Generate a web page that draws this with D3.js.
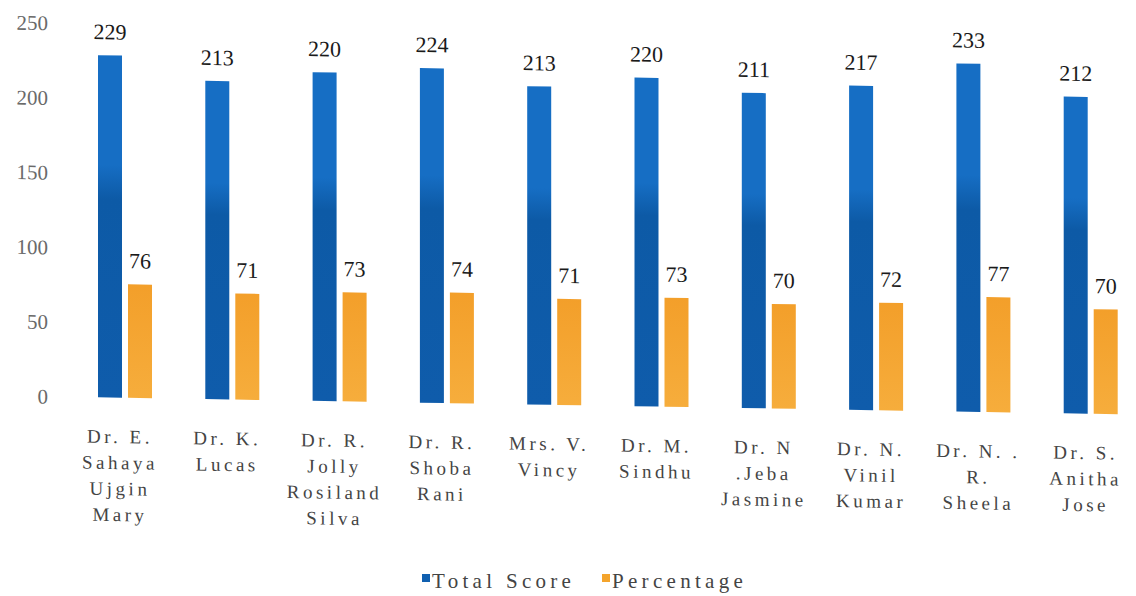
<!DOCTYPE html>
<html>
<head>
<meta charset="utf-8">
<script src="https://cdn.jsdelivr.net/npm/d3@7"></script>
<style>
  html, body { margin: 0; padding: 0; background: #fff; }
  svg { display: block; }
</style>
</head>
<body>
<svg id="chart" width="1136" height="596"></svg>
<script>
const categories = [
  "Dr. E.\nSahaya\nUjgin\nMary",
  "Dr. K.\nLucas",
  "Dr. R.\nJolly\nRosiland\nSilva",
  "Dr. R.\nShoba\nRani",
  "Mrs. V.\nVincy",
  "Dr. M.\nSindhu",
  "Dr. N\n.Jeba\nJasmine",
  "Dr. N.\nVinil\nKumar",
  "Dr. N. .\nR.\nSheela",
  "Dr. S.\nAnitha\nJose"
];
const seriesNames = ["Total Score", "Percentage"];
const totalScore = [229, 213, 220, 224, 213, 220, 211, 217, 233, 212];
const percentage = [76, 71, 73, 74, 71, 73, 70, 72, 77, 70];
const yTicks = [0, 50, 100, 150, 200, 250];
const colors = ["#1060b0", "#f4a42c"];

const rows = categories.map((c, i) => ({
  cat: c,
  vals: [
    { key: seriesNames[0], v: totalScore[i] },
    { key: seriesNames[1], v: percentage[i] }
  ]
}));

const svg = d3.select("#chart");

const defs = svg.append("defs");
const gBlue = defs.append("linearGradient").attr("id", "gBlue").attr("x1", 0).attr("x2", 0).attr("y1", 0).attr("y2", 1);
gBlue.append("stop").attr("offset", "0%").attr("stop-color", "#166ec4");
gBlue.append("stop").attr("offset", "32%").attr("stop-color", "#166ec4");
gBlue.append("stop").attr("offset", "42%").attr("stop-color", "#0d5aa6");
gBlue.append("stop").attr("offset", "100%").attr("stop-color", "#0f5cab");
const gOr = defs.append("linearGradient").attr("id", "gOr").attr("x1", 0).attr("x2", 0).attr("y1", 0).attr("y2", 1);
gOr.append("stop").attr("offset", "0%").attr("stop-color", "#f39f2a");
gOr.append("stop").attr("offset", "100%").attr("stop-color", "#f6ad3c");
const fills = ["url(#gBlue)", "url(#gOr)"];

const g = svg.append("g").attr("transform", "translate(0,-1.82) skewY(0.949)");

const x0 = d3.scaleBand().domain(categories).range([71.35, 1144.35]).paddingInner(0).paddingOuter(0);
const x1 = d3.scaleBand().domain(seriesNames).range([26.65, 80.65]).paddingInner(0.2);
const y = d3.scaleLinear().domain([0, 250]).range([397.5, 24]);

const yAxis = d3.axisLeft(y).tickValues(yTicks).tickSize(0).tickPadding(0);
const ya = g.append("g").attr("transform", "translate(48,0)").call(yAxis);
ya.select(".domain").remove();
ya.selectAll("text")
  .attr("font-family", "'Liberation Serif', 'DejaVu Serif', serif")
  .attr("font-size", 21)
  .attr("fill", "#6a6a6a");

const groups = g.selectAll("g.grp").data(rows).join("g")
  .attr("class", "grp")
  .attr("transform", d => `translate(${x0(d.cat)},0)`);

groups.selectAll("rect").data(d => d.vals).join("rect")
  .attr("x", d => x1(d.key))
  .attr("width", x1.bandwidth())
  .attr("y", d => y(d.v))
  .attr("height", d => y(0) - y(d.v))
  .attr("fill", (d, i) => fills[i]);

groups.selectAll("text.val").data(d => d.vals).join("text")
  .attr("class", "val")
  .attr("x", d => x1(d.key) + x1.bandwidth() / 2)
  .attr("y", d => y(d.v) - 16)
  .attr("text-anchor", "middle")
  .attr("font-family", "'Liberation Serif', 'DejaVu Serif', serif")
  .attr("font-size", 22)
  .attr("fill", "#1a1a1a")
  .text(d => d.v);

const labG = g.append("g");
categories.forEach(c => {
  const t = labG.append("text")
    .attr("text-anchor", "middle")
    .attr("font-family", "'Liberation Serif', 'DejaVu Serif', serif")
    .attr("font-size", 19)
    .attr("letter-spacing", "3.5px")
    .attr("fill", "#444");
  c.split("\n").forEach((line, k) => {
    t.append("tspan")
      .attr("x", x0(c) + x0.bandwidth() / 2 - 5)
      .attr("y", 443 + 26 * k)
      .text(line);
  });
});

const leg = svg.append("g");
const legItems = [
  { name: seriesNames[0], sx: 422, tx: 432 },
  { name: seriesNames[1], sx: 602, tx: 612 }
];
legItems.forEach((it, i) => {
  leg.append("rect").attr("x", it.sx).attr("y", 574).attr("width", 8).attr("height", 8).attr("fill", colors[i]);
  leg.append("text")
    .attr("x", it.tx).attr("y", 588)
    .attr("font-family", "'Liberation Serif', 'DejaVu Serif', serif")
    .attr("font-size", 21)
    .attr("letter-spacing", "4.3px")
    .attr("fill", "#444")
    .text(it.name);
});
</script>
</body>
</html>
